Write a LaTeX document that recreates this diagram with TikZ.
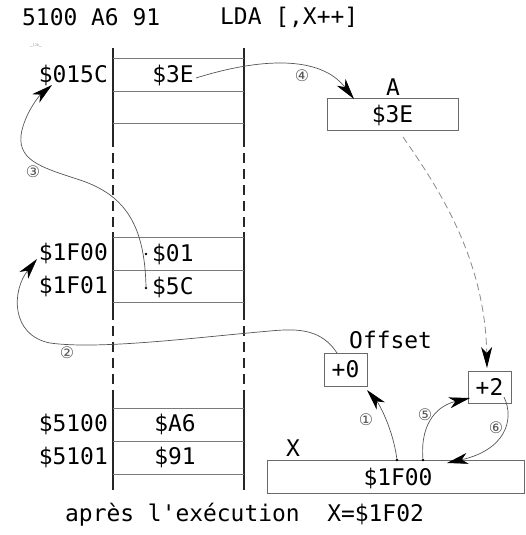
\documentclass[tikz,border=0pt]{standalone}
\usepackage{fontspec}
\newfontfamily\mono{DejaVu Sans Mono}[Ligatures=TeXOff]
\newfontfamily\circfont{DejaVu Sans}
\usetikzlibrary{arrows.meta}
\definecolor{boxgray}{HTML}{6A6A6A}
\definecolor{rowgray}{HTML}{7A7A7A}
\definecolor{curvegray}{HTML}{555555}
\definecolor{dashgray}{HTML}{8A8A8A}
\begin{document}
\begin{tikzpicture}[x=1bp,y=-1bp,
  txt/.style={font=\mono\fontsize{23}{27}\selectfont, inner sep=0pt},
  num/.style={font=\circfont\fontsize{16}{17}\selectfont, text=curvegray, inner sep=0pt},
  regbox/.style={txt, draw=boxgray, line width=1bp},
  colline/.style={draw=black!85, line width=1.4bp},
  coldash/.style={colline, dash pattern=on 10bp off 6bp},
  rowline/.style={draw=rowgray, line width=1bp},
  tip/.style={-{Stealth[length=21bp,width=11bp,inset=6bp,black]}},
  conn/.style={draw=curvegray, line width=0.7bp, tip},
  dashconn/.style={draw=dashgray, line width=0.8bp, dash pattern=on 7bp off 4bp, tip},
  dot/.style={circle, fill=black, inner sep=0pt, minimum size=2.6bp}
]
\useasboundingbox (0,0) rectangle (526,535);

% headings
\node[txt, anchor=west] (title1) at (22,17) {5100 A6 91};
\node[txt, anchor=west] (title2) at (220,17) {LDA [,X++]};
\node[font=\sffamily\fontsize{4}{5}\selectfont, text=black!40, inner sep=0pt] (tag) at (36,45) {\_12b\_};

% memory column
\draw[colline] (113,48) -- (113,137);
\draw[coldash] (113,137) -- (113,232);
\draw[colline] (113,232) -- (113,310);
\draw[coldash] (113,310) -- (113,394);
\draw[colline] (113,394) -- (113,490);
\draw[colline] (244,48) -- (244,137);
\draw[coldash] (244,137) -- (244,232);
\draw[colline] (244,232) -- (244,310);
\draw[coldash] (244,310) -- (244,394);
\draw[colline] (244,394) -- (244,490);
\foreach \yy in {59,92,124,237,270,302,408,441,474}
  \draw[rowline] (113,\yy) -- (244,\yy);

% addresses and contents
\node[txt, anchor=east] (a015C) at (108,75) {\$015C};
\node[txt] (m3E) at (173,75) {\$3E};
\node[txt, anchor=east] (a1F00) at (108,253) {\$1F00};
\node[txt, anchor=east] (a1F01) at (108,286) {\$1F01};
\node[txt, anchor=west] (v01) at (152,254) {\$01};
\node[txt, anchor=west] (v5C) at (152,287) {\$5C};
\node[txt, anchor=east] (a5100) at (108,424) {\$5100};
\node[txt, anchor=east] (a5101) at (108,457) {\$5101};
\node[txt] (vA6) at (175,424) {\$A6};
\node[txt] (v91) at (175,457) {\$91};
\node[dot] (d01) at (146,254) {};
\node[dot] (d5C) at (146,288) {};

% registers
\node[txt] (labA) at (393,87) {A};
\node[regbox, minimum width=131bp, minimum height=32bp] (regA) at (392.5,115) {\$3E};
\node[txt, anchor=west] (offlab) at (349,340) {Offset};
\node[regbox, minimum width=43bp, minimum height=33bp] (off0) at (345.5,369.5) {+0};
\node[regbox, minimum width=43bp, minimum height=32bp] (off2) at (489.5,387) {+2};
\node[txt] (labX) at (293,448) {X};
\node[regbox, minimum width=257bp, minimum height=33bp] (regX) at (395.5,476.5) {};
\node[txt] (xval) at (398,478) {\$1F00};
\node[dot] (dx1) at (397,460) {};
\node[dot] (dx5) at (423,460) {};

% step numbers
\node[num] (n1) at (366,420) {①};
\node[num] (n2) at (67,353) {②};
\node[num] (n3) at (33,172) {③};
\node[num] (n4) at (302,76) {④};
\node[num] (n5) at (425,415) {⑤};
\node[num] (n6) at (496,428) {⑥};

% connector end points
\coordinate (t1) at (367,390);
\coordinate (s2) at (337,353);
\coordinate (t2) at (37,259);
\coordinate (t3) at (52,85);
\coordinate (s4) at (196,78);
\coordinate (t4) at (354,99);
\coordinate (t5) at (470,398);
\coordinate (s6) at (504,397);
\coordinate (t6) at (447,463);
\coordinate (sd) at (403,137);
\coordinate (td) at (487,368);

% connectors
\draw[conn] (dx1) .. controls (393,430) and (380,405) .. (t1);
\draw[conn] (s2) .. controls (322,330) and (300,328) .. (270,331)
  .. controls (200,337) and (100,350) .. (50,343)
  .. controls (10,335) and (12,290) .. (t2);
\draw[conn] (d5C.center) .. controls (145,225) and (125,195) .. (80,180)
  .. controls (40,167) and (15,160) .. (22,130)
  .. controls (27,110) and (40,95) .. (t3);
\draw[conn] (s4) .. controls (260,58) and (320,55) .. (t4);
\draw[conn] (dx5) .. controls (420,420) and (440,405) .. (t5);
\draw[conn] (s6) .. controls (515,420) and (505,450) .. (t6);
\draw[dashconn] (sd) .. controls (440,190) and (485,260) .. (td);

% footer
\node[txt, anchor=west] (footer) at (65,515) {après l'exécution\ \ X=\$1F02};
\end{tikzpicture}
\end{document}
